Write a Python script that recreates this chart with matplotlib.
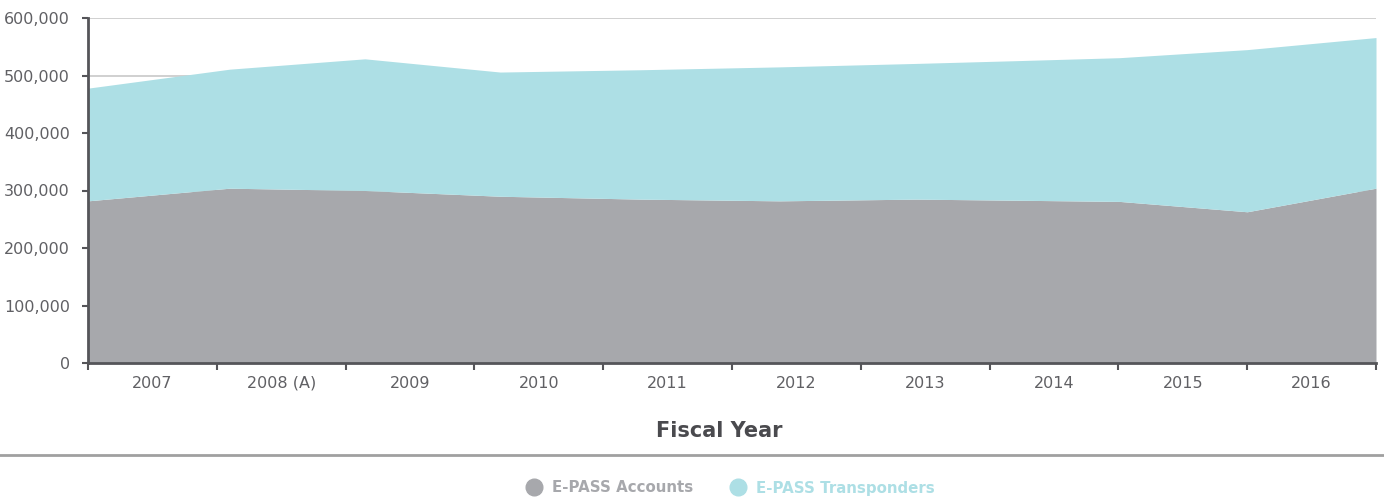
import matplotlib.pyplot as plt
from matplotlib.lines import Line2D

# Données (en milliers)
years = ['2007', '2008 (A)', '2009', '2010', '2011', '2012', '2013', '2014', '2015', '2016']
# positions des sommets le long de l'axe (0 = début 2007, 10 = fin 2016)
x_pos = [0, 1.10, 2.15, 3.20, 4.29, 5.37, 6.43, 7.24, 8.01, 9.0, 10]
accounts = [282, 304, 300, 290, 285, 282, 285, 283, 281, 263, 304]
total = [478, 511, 529, 506, 510, 515, 521, 526, 531, 545, 566]

gray = '#a7a8ac'
cyan = '#addfe5'
axis_col = '#555559'
text_col = '#606064'

fig = plt.figure(figsize=(13.84, 4.97), dpi=100)
ax = fig.add_axes([88 / 1384, 1 - 363 / 497, 1288 / 1384, 345 / 497])

acc_vals = [v * 1000 for v in accounts]
tot_vals = [v * 1000 for v in total]
ax.fill_between(x_pos, 0, acc_vals, color=gray, lw=0, zorder=2)
ax.fill_between(x_pos, acc_vals, tot_vals, color=cyan, lw=0, zorder=2)

ax.set_xlim(0, 10)
ax.set_ylim(0, 600000)
ax.set_yticks(range(0, 600001, 100000))
ax.set_yticklabels(['0' if v == 0 else f'{v:,}' for v in range(0, 600001, 100000)])
ax.yaxis.grid(True, color='#c8c8c8', lw=1.2, zorder=0)
ax.set_axisbelow(True)

# ticks aux frontières, libellés au centre des catégories
ax.set_xticks(range(0, 11))
ax.set_xticklabels([])
ax.set_xticks([i + 0.5 for i in range(10)], minor=True)
ax.set_xticklabels(years, minor=True)
ax.tick_params(axis='x', which='major', length=5, width=1.5, color=axis_col, direction='out')
ax.tick_params(axis='x', which='minor', length=0, pad=9, labelsize=11.5, labelcolor=text_col)
ax.tick_params(axis='y', length=4, width=1.5, color=axis_col, pad=9, labelsize=11.5, labelcolor=text_col)

for s in ['top', 'right']:
    ax.spines[s].set_visible(False)
for s in ['left', 'bottom']:
    ax.spines[s].set_color(axis_col)
    ax.spines[s].set_linewidth(2)
    ax.spines[s].set_zorder(3)

fig.text(719 / 1384, 1 - 431 / 497, 'Fiscal Year', ha='center', va='center',
         fontsize=15, fontweight='bold', color='#4a4a4e')

fig.add_artist(Line2D([0, 1], [1 - 455 / 497] * 2, transform=fig.transFigure,
                      color='#a0a0a0', lw=2))

handles = [Line2D([], [], marker='o', ls='', markersize=12, color=gray, markerfacecolor=gray),
           Line2D([], [], marker='o', ls='', markersize=12, color=cyan, markerfacecolor=cyan)]
fig.legend(handles, ['E-PASS Accounts', 'E-PASS Transponders'], loc='center',
           bbox_to_anchor=(727 / 1384, 1 - 488 / 497), ncol=2, frameon=False,
           handletextpad=0.2, columnspacing=2.0, labelcolor='markerfacecolor',
           prop={'weight': 'bold', 'size': 10.8})

plt.savefig('out.png', dpi=100)
